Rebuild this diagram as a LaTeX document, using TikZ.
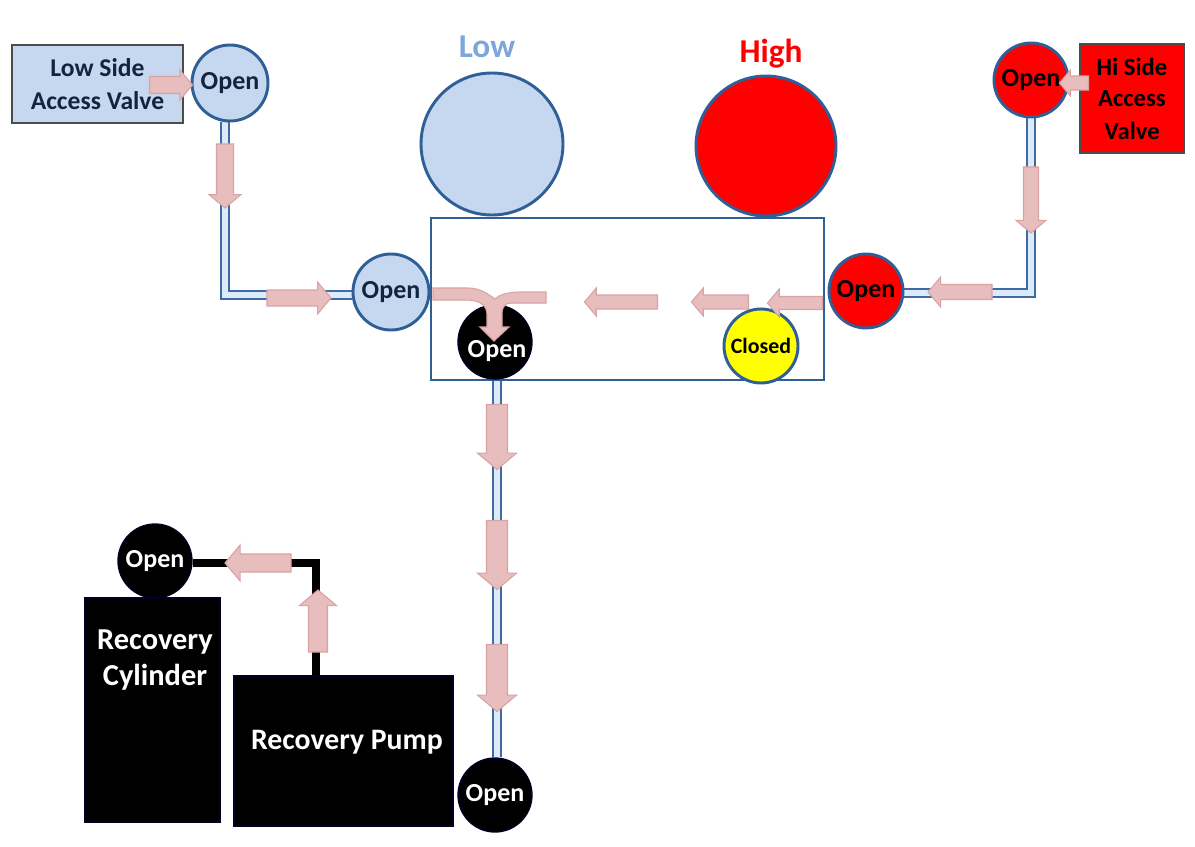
\documentclass[tikz,border=0pt]{standalone}
\usepackage{fontspec}
\setmainfont{Carlito}
\usetikzlibrary{backgrounds}
\definecolor{pipeblue}{HTML}{3F6AA3}
\definecolor{pipein}{HTML}{DCEBF8}
\definecolor{boxblue}{HTML}{2F5F96}
\definecolor{lowblue}{HTML}{C6D8EF}
\definecolor{lowtext}{HTML}{7FA6D8}
\definecolor{pink}{HTML}{E8BDBD}
\definecolor{pinkedge}{HTML}{D9A3A3}
\definecolor{navytxt}{HTML}{10253F}
\definecolor{pureyellow}{HTML}{FFFF00}
\newcommand{\fsz}[1]{\fontsize{#1}{#1}\selectfont\bfseries}
\newcommand{\opentxt}{\raisebox{-4.5pt}[0pt][0pt]{Open}}
% #1 name, #2 x, #3 y (centre), #4 direction, #5 length, #6 shaft width, #7 head width
\newcommand{\flow}[7]{%
  \pgfmathsetmacro{\fL}{#5/2}\pgfmathsetmacro{\fS}{#6/2}\pgfmathsetmacro{\fH}{#7/2}%
  \pgfmathsetmacro{\fN}{#5/2-0.42*#7}%
  \path[flowarrow,shift={(#2,#3)},rotate=#4]
    (-\fL,-\fS) -- (\fN,-\fS) -- (\fN,-\fH) -- (\fL,0) -- (\fN,\fH) -- (\fN,\fS) -- (-\fL,\fS) -- cycle;}
\tikzset{
  rad/.style={circle,inner sep=0pt,minimum size=#1*1.5pt},
  wh/.style 2 args={rectangle,inner sep=0pt,minimum width=#1*.75pt,minimum height=#2*.75pt},
  valve/.style={rad=#1,draw=boxblue,line width=2.2pt},
  lowv/.style={valve=#1,fill=lowblue,text=navytxt},
  highv/.style={valve=#1,fill=red,text=black},
  blackv/.style={rad=#1,fill=black,draw=black!85!blue,line width=1pt,text=white},
  openlabel/.style={font=\fsz{19.5}},
  flowarrow/.style={draw=pinkedge,fill=pink,line width=.8pt,line join=miter},
  pipe/.style={draw=pipeblue,line width=1.5pt,double=pipein,double distance=4.2pt,line join=miter},
  blackpipe/.style={draw=black,line width=6pt,line join=miter},
}
\begin{document}
\begin{tikzpicture}[x=.75pt,y=-.75pt]
\useasboundingbox (0,0) rectangle (1195,846);
% gauges and manifold
\node[wh={393}{162},draw=boxblue,line width=2.2pt,fill=white] (manifold) at (627.5,299) {};
\node[valve=71,fill=lowblue] (lowgauge) at (492,144) {};
\node[valve=70,fill=red] (highgauge) at (766,146) {};
\node[text=lowtext,font=\fsz{25}] (lowlabel) at (487,47) {Low};
\node[text=red,font=\fsz{25}] (highlabel) at (771,54) {High};
% access valves
\node[wh={171}{78},draw=black!70,line width=1.8pt,fill=lowblue,text=navytxt,font=\fsz{19.2},align=center] (lowaccess) at (97.5,84) {Low Side\\[5pt]Access Valve};
\node[lowv=38,openlabel] (lowopen) at (230,83) {\opentxt};
\node[wh={104}{109},draw=black!70,line width=1.2pt,fill=red,text=black,font=\fsz{18.5},align=center] (hiaccess) at (1132,98.5) {Hi Side\\[5pt]Access\\[6pt]Valve};
\node[highv=37,openlabel] (hiopen) at (1031,80) {\opentxt};
% manifold valves
\node[lowv=38,openlabel] (leftopen) at (391,292) {Open};
\node[highv=37,openlabel] (rightopen) at (866,291) {\opentxt};
\node[blackv=37] (midopen) at (495,342) {};
\node[valve=37,fill=pureyellow,text=black,font=\fsz{16.4}] (closed) at (761,346) {Closed};
% bottom
\node[blackv=37,openlabel] (botopen) at (495,795) {\opentxt};
\node[blackv=37,openlabel] (cylopen) at (155,561) {\opentxt};
\node[wh={135}{224},fill=black,draw=black!85!blue,line width=1pt] (cylinder) at (152.5,710) {};
\node[text=white,font=\fsz{22.8},align=center] (cyltext) at (155,660) {Recovery\\[4pt]Cylinder};
\node[wh={219}{150},fill=black,draw=black!85!blue,line width=1pt] (pump) at (343.5,751) {};
\node[text=white,font=\fsz{22.3}] (pumptext) at (347,742) {Recovery Pump};
% connectors behind everything
\coordinate (lowcorner) at (225,295);
\coordinate (hicorner) at (1031,293);
\coordinate (blackcorner) at (316,563);
\coordinate (botx) at (497,500);
\begin{scope}[on background layer]
\draw[pipe] (lowcorner |- lowopen.south) -- (lowcorner) -- (leftopen.west |- lowcorner);
\draw[pipe] (hiopen.south) -- (hicorner) -- (rightopen.east |- hicorner);
\draw[pipe] (botx |- botopen.north) -- (botx |- manifold.south);
\draw[blackpipe] (blackcorner |- pump.north) -- (blackcorner) -- (cylopen.east |- blackcorner);
\end{scope}
% flow arrows
\flow{fa}{171}{85}{0}{43}{17}{30}
\flow{fb}{225}{176}{270}{64}{17}{32}
\flow{fc}{299}{298}{0}{64}{16}{32}
\path[flowarrow] (433,288) -- (468,288) .. controls (480,288) and (488,294) .. (495,299) .. controls (500,294) and (510,292) .. (520,292) -- (546,292) -- (546,303) -- (515,303) .. controls (505,303) and (502,305) .. (502,315) -- (502,327) -- (509,327) -- (494,341) -- (480,327) -- (487,327) -- (487,315) .. controls (487,305) and (480,300) .. (465,300) -- (433,300) -- cycle;
\node[text=white,font=\fsz{19.5}] (midopentext) at (497,351) {Open};
\flow{fd}{621}{302}{180}{73}{14}{28}
\flow{fe}{720}{302}{180}{57}{14}{28}
\flow{ff}{795}{303}{180}{55}{13}{28}
\flow{fg}{960}{292}{180}{64}{15}{30}
\flow{fh}{1031}{200}{270}{66}{15}{30}
\flow{fi}{1074}{83}{180}{29}{14}{26}
\flow{fj}{497}{437}{270}{65}{21}{39}
\flow{fk}{497}{555}{270}{69}{21}{39}
\flow{fl}{497}{678}{270}{67}{21}{39}
\flow{fm}{258}{563}{180}{66}{18}{36}
\flow{fn}{318}{621}{90}{62}{19}{37}
\end{tikzpicture}
\end{document}
